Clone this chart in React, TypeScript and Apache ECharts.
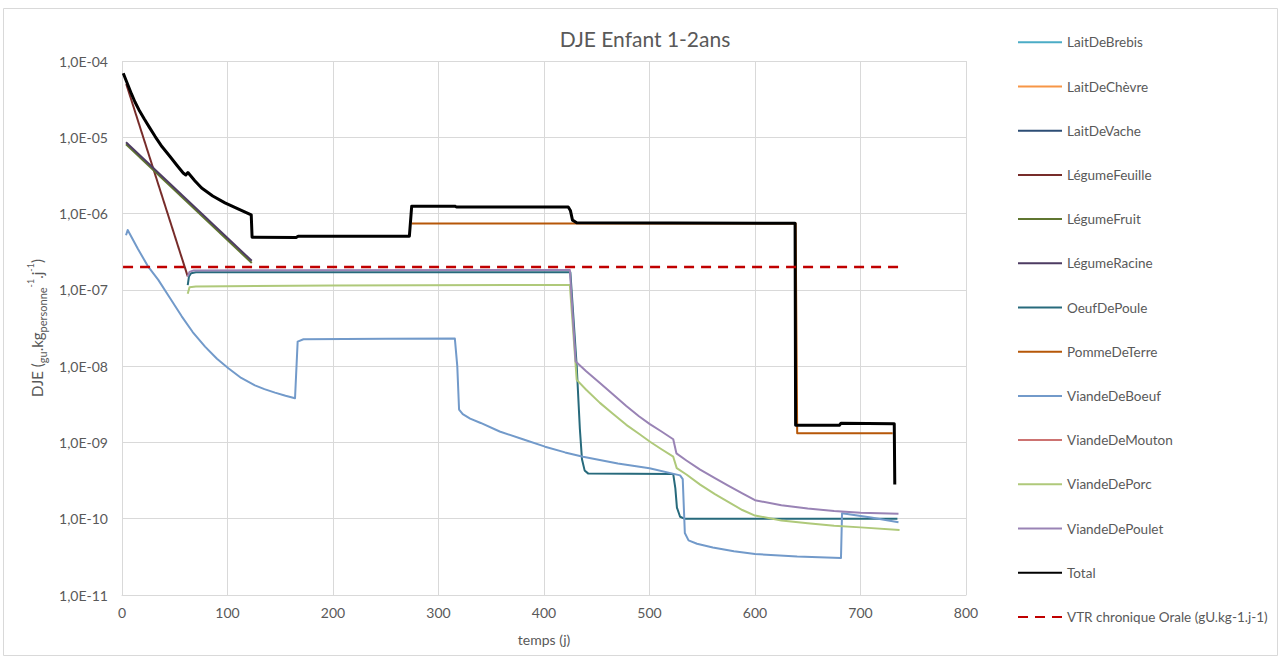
import React, { useEffect, useRef } from 'react';
import * as echarts from 'echarts';

// ---------- data ----------
const seriesNames = [
  'LaitDeBrebis', 'LaitDeChèvre', 'LaitDeVache', 'LégumeFeuille', 'LégumeFruit',
  'LégumeRacine', 'OeufDePoule', 'PommeDeTerre', 'ViandeDeBoeuf', 'ViandeDeMouton',
  'ViandeDePorc', 'ViandeDePoulet', 'Total', 'VTR chronique Orale (gU.kg-1.j-1)',
];
const seriesColors = [
  '#4BACC6', '#F79646', '#2C4D75', '#772C2A', '#5F7530',
  '#4D3B62', '#276A7C', '#B65708', '#729ACA', '#CD7371',
  '#AFC97A', '#9983B5', '#000000', '#C00000',
];

type Pt = [number, number];
const laitDeBrebis: Pt[] = [];
const laitDeChevre: Pt[] = [];
const laitDeVache: Pt[] = [];
const legumeFeuille: Pt[] = [[4, 5.0e-5], [62.3, 1.5e-7]];
const legumeFruit: Pt[] = [[3.8, 8.1e-6], [123, 2.25e-7]];
const legumeRacine: Pt[] = [[3.8, 8.6e-6], [123, 2.4e-7]];
const oeufDePoule: Pt[] = [
  [62.3, 1.15e-7], [63.5, 1.5e-7], [65.5, 1.65e-7], [70, 1.7e-7], [425, 1.7e-7],
  [431, 1.0e-8], [434, 1.5e-9], [436, 6.0e-10], [438.5, 4.3e-10], [442, 3.9e-10],
  [522.5, 3.85e-10], [524.5, 2.5e-10], [526, 1.4e-10], [529, 1.06e-10], [533, 1.0e-10],
  [735, 1.0e-10],
];
const pommeDeTerre: Pt[] = [[274.5, 7.4e-7], [638.5, 7.4e-7], [640, 1.32e-9], [730.5, 1.32e-9]];
const viandeDeBoeuf: Pt[] = [
  [3.8, 5.2e-7], [5.4, 6.1e-7], [15, 3.45e-7], [25, 2.0e-7], [34.4, 1.35e-7],
  [45, 8.0e-8], [56.6, 4.5e-8], [67, 2.8e-8], [78.7, 1.8e-8], [90, 1.25e-8],
  [100.8, 9.4e-9], [113, 7.0e-9], [126, 5.6e-9], [135, 5.0e-9], [145, 4.5e-9],
  [155, 4.1e-9], [164, 3.8e-9],
  [166.5, 2.1e-8], [172, 2.25e-8], [250, 2.28e-8], [315.5, 2.3e-8], [317.8, 1.0e-8],
  [319.5, 2.7e-9], [323, 2.35e-9], [330, 2.05e-9], [340, 1.8e-9], [358, 1.39e-9],
  [380, 1.1e-9], [401, 8.8e-10], [420, 7.4e-10], [437, 6.5e-10], [470, 5.3e-10],
  [500, 4.6e-10], [529, 3.7e-10],
  [531.5, 3.3e-10], [533.5, 6.5e-11], [537, 5.2e-11], [545, 4.7e-11], [560, 4.2e-11],
  [580, 3.75e-11], [600, 3.45e-11], [640, 3.2e-11], [681.5, 3.05e-11], [682.5, 1.18e-10],
  [710, 1.04e-10], [736, 9.0e-11],
];
const viandeDeMouton: Pt[] = [];
const viandeDePorc: Pt[] = [
  [62.3, 8.9e-8], [64, 1.08e-7], [70, 1.11e-7], [200, 1.14e-7], [424.5, 1.16e-7],
  [431, 6.6e-9], [440, 4.9e-9], [453, 3.3e-9], [465, 2.4e-9], [478, 1.7e-9],
  [490, 1.3e-9], [500.5, 1.02e-9], [511, 8.2e-10], [522.5, 6.5e-10],
  [525.8, 4.6e-10], [535, 3.8e-10], [548, 2.8e-10], [562, 2.1e-10], [575, 1.65e-10],
  [588, 1.3e-10], [600, 1.1e-10], [625, 9.5e-11], [650, 8.7e-11], [675, 8.1e-11],
  [700, 7.7e-11], [737, 7.1e-11],
];
const viandeDePoulet: Pt[] = [
  [62.3, 1.5e-7], [64, 1.72e-7], [68, 1.8e-7], [424.5, 1.82e-7], [430, 1.15e-8],
  [440, 8.6e-9], [453, 6.0e-9], [465, 4.3e-9], [478, 3.0e-9], [490, 2.2e-9],
  [500, 1.75e-9], [511, 1.4e-9], [522.5, 1.1e-9],
  [525.5, 7.2e-10], [535, 5.8e-10], [548, 4.4e-10], [562, 3.4e-10], [575, 2.7e-10],
  [588, 2.15e-10], [600, 1.75e-10], [625, 1.5e-10], [650, 1.36e-10], [675, 1.26e-10],
  [700, 1.2e-10], [736, 1.16e-10],
];
const total: Pt[] = [
  [1.2, 6.9e-5], [4, 5.5e-5], [6, 4.7e-5], [9, 3.7e-5], [12.3, 2.9e-5],
  [16, 2.3e-5], [21, 1.75e-5], [26, 1.35e-5], [31.3, 1.03e-5], [38, 7.5e-6],
  [45.5, 5.6e-6], [52, 4.3e-6], [58, 3.4e-6], [60.5, 3.2e-6], [62.5, 3.45e-6],
  [69, 2.7e-6], [75.5, 2.16e-6], [86, 1.7e-6], [97.6, 1.38e-6], [110, 1.15e-6],
  [122.5, 9.6e-7], [123.3, 4.9e-7],
  [165, 4.85e-7], [167, 5.05e-7], [272.4, 5.05e-7], [274.6, 1.25e-6], [315.5, 1.25e-6],
  [317, 1.22e-6], [423, 1.22e-6], [425, 1.1e-6], [427, 8.2e-7], [431, 7.6e-7],
  [638, 7.45e-7], [638.5, 1.68e-9], [680, 1.68e-9], [681.5, 1.78e-9], [732, 1.76e-9],
  [732.5, 2.8e-10],
];
const vtr: Pt[] = [[1, 2e-7], [736, 2e-7]];

const seriesData: Pt[][] = [
  laitDeBrebis, laitDeChevre, laitDeVache, legumeFeuille, legumeFruit,
  legumeRacine, oeufDePoule, pommeDeTerre, viandeDeBoeuf, viandeDeMouton,
  viandeDePorc, viandeDePoulet, total, vtr,
];

const xTicks = [0, 100, 200, 300, 400, 500, 600, 700, 800];
const yTickLabels = ['1,0E-11', '1,0E-10', '1,0E-09', '1,0E-08', '1,0E-07', '1,0E-06', '1,0E-05', '1,0E-04'];
const yMinExp = -11;
const chartTitle = 'DJE Enfant 1-2ans';

const FONT = 'Lato, "Noto Sans", sans-serif';
const GREY = '#595959';

export default function App() {
  const ref = useRef<HTMLDivElement>(null);
  useEffect(() => {
    const chart = echarts.init(ref.current!, null, { renderer: 'svg' });
    const series = seriesNames.map((name, i) => {
      const isTotal = name === 'Total';
      const isVtr = i === seriesNames.length - 1;
      return {
        name,
        type: 'line',
        data: seriesData[i],
        symbol: 'none',
        showSymbol: false,
        smooth: false,
        color: seriesColors[i],
        lineStyle: {
          color: seriesColors[i],
          width: isTotal ? 3 : isVtr ? 2.5 : 2,
          type: isVtr ? [10, 7] : 'solid',
          cap: 'butt',
          join: 'round',
        },
        emphasis: { disabled: true },
      };
    });
    chart.setOption({
      animation: false,
      backgroundColor: '#ffffff',
      textStyle: { fontFamily: FONT },
      legend: {
        orient: 'vertical',
        left: 1017,
        top: 35.3,
        padding: 0,
        itemWidth: 44,
        itemHeight: 14,
        itemGap: 30.2,
        data: seriesNames,
        itemStyle: { opacity: 0 },
        textStyle: { fontFamily: FONT, fontSize: 13.5, color: GREY, lineHeight: 14 },
        selectedMode: false,
      },
      grid: { left: 122, right: 315, top: 61, bottom: 67, containLabel: false },
      xAxis: {
        type: 'value',
        min: xTicks[0],
        max: xTicks[xTicks.length - 1],
        interval: 100,
        name: 'temps (j)',
        nameLocation: 'middle',
        nameGap: 37,
        nameMoveOverlap: false,
        nameTextStyle: { fontFamily: FONT, fontSize: 14, color: GREY },
        axisLine: { show: true, lineStyle: { color: '#d9d9d9', width: 1 } },
        axisTick: { show: false },
        axisLabel: { color: GREY, fontFamily: FONT, fontSize: 14, margin: 10 },
        splitLine: { show: true, lineStyle: { color: '#d9d9d9', width: 1 } },
      },
      yAxis: {
        type: 'log',
        logBase: 10,
        min: 1e-11,
        max: 1e-4,
        name: '{n|DJE (}{s|gu}{n|.kg}{s|personne}{p|-1}{n|.j}{p|-1}{n|)}',
        nameLocation: 'middle',
        nameRotate: 90,
        nameGap: 74,
        nameMoveOverlap: false,
        nameTextStyle: {
          rich: {
            n: { fontFamily: FONT, fontSize: 15, color: GREY, lineHeight: 22, verticalAlign: 'middle' },
            s: { fontFamily: FONT, fontSize: 11, color: GREY, lineHeight: 14, verticalAlign: 'bottom' },
            p: { fontFamily: FONT, fontSize: 9, color: GREY, lineHeight: 12, verticalAlign: 'top' },
          },
        },
        axisLine: { show: false },
        axisTick: { show: false },
        axisLabel: {
          color: GREY,
          fontFamily: FONT,
          fontSize: 14,
          margin: 14,
          formatter: (v: number) => {
            const e = Math.round(Math.log10(v));
            return yTickLabels[e - yMinExp] ?? '';
          },
        },
        splitLine: { show: true, lineStyle: { color: '#d9d9d9', width: 1 } },
      },
      graphic: [
        {
          type: 'rect',
          shape: { x: 3.5, y: 8.5, width: 1274, height: 647 },
          style: { fill: 'none', stroke: '#d9d9d9', lineWidth: 1 },
          silent: true,
          z: -10,
        },
        {
          type: 'text',
          x: 645,
          y: 38,
          silent: true,
          style: {
            text: chartTitle,
            fontFamily: FONT,
            fontSize: 21,
            fill: GREY,
            align: 'center',
            verticalAlign: 'middle',
          },
        },
      ],
      series,
    });
    return () => chart.dispose();
  }, []);
  return (
    <div
      ref={ref}
      style={{ position: 'fixed', left: 0, top: 0, width: 1281, height: 662, background: '#fff' }}
    />
  );
}
